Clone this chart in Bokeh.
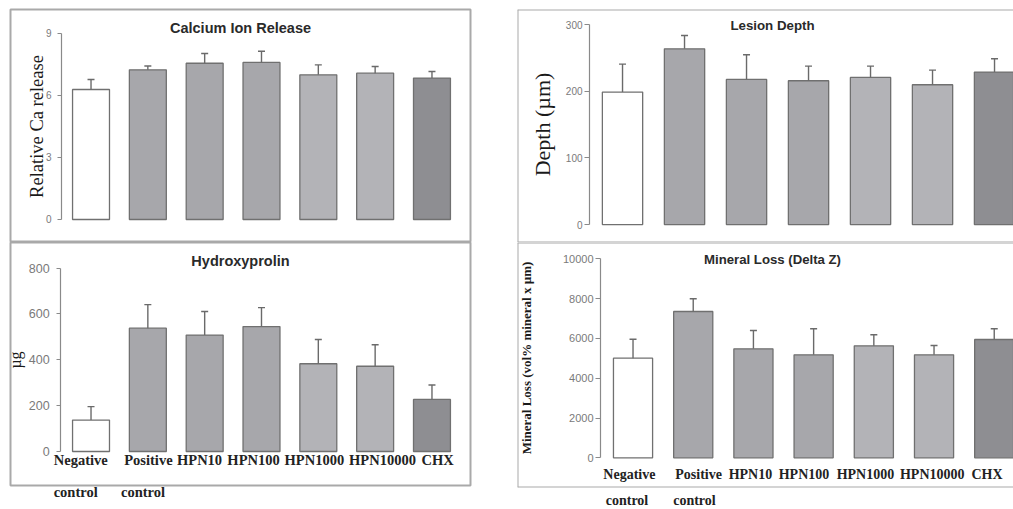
from bokeh.plotting import figure
from bokeh.models import LinearAxis, FixedTicker, Range1d, Label, ColumnDataSource, Span
from bokeh.layouts import row, column
from bokeh.embed import file_html
from bokeh.resources import INLINE

categories = ["Negative", "Positive", "HPN10", "HPN100", "HPN1000", "HPN10000", "CHX"]
second_line = ["control", "control"]

ca_mean = [6.29, 7.24, 7.56, 7.60, 7.00, 7.08, 6.84]
ca_sd = [0.48, 0.19, 0.47, 0.54, 0.48, 0.32, 0.32]
ca_ticks = [0, 3, 6, 9]

hyp_mean = [137, 538, 508, 545, 383, 372, 227]
hyp_sd = [59, 103, 103, 83, 106, 94, 63]
hyp_ticks = [0, 200, 400, 600, 800]

depth_mean = [199, 264, 218, 216, 221, 210, 229]
depth_sd = [42, 20, 37, 22, 17, 22, 20]
depth_ticks = [0, 100, 200, 300]

min_mean = [5005, 7352, 5477, 5176, 5628, 5176, 5945]
min_sd = [955, 638, 920, 1306, 553, 467, 537]
min_ticks = [0, 2000, 4000, 6000, 8000, 10000]

bar_colors = ["#ffffff", "#a7a7ab", "#a7a7ab", "#a7a7ab", "#b3b3b7", "#b3b3b7", "#8e8e92"]

SERIF = "Liberation Serif"
SANS = "Liberation Sans"
BOX = "#a9a9a9"


def panel(title, mean, sd, ticks, ylabel, cfg):
    n = len(categories)
    xs = list(range(n))
    p = figure(
        frame_width=cfg["fw"], frame_height=cfg["fh"],
        x_range=Range1d(cfg["x0"], cfg["x1"]), y_range=Range1d(cfg["y0"], cfg["y1"]),
        x_axis_location=None, y_axis_location=None,
        output_backend="svg", toolbar_location=None,
        min_border_left=cfg["bl"], min_border_right=cfg["br"],
        min_border_top=cfg["bt"], min_border_bottom=cfg["bb"],
        outline_line_color=BOX if cfg.get("outline", True) else None, outline_line_width=2,
        background_fill_color="white", border_fill_color="white",
    )
    p.grid.visible = False
    if not cfg.get("outline", True):
        p.add_layout(Span(location=cfg["x0"], dimension="height", line_color=BOX, line_width=2))
        p.add_layout(Span(location=cfg["y0"], dimension="width", line_color=BOX, line_width=2))
        p.add_layout(Span(location=cfg["y1"], dimension="width", line_color=BOX, line_width=2))

    src = ColumnDataSource(dict(
        x=xs, top=mean, err=[m + s for m, s in zip(mean, sd)], color=bar_colors,
    ))
    p.vbar(x="x", top="top", bottom=0, width=0.65, source=src,
           fill_color="color", line_color="#707070", line_width=1.3)
    p.segment(x0="x", y0="top", x1="x", y1="err", source=src,
              line_color="#6a6a6a", line_width=1.4)
    p.scatter(x="x", y="err", marker="dash", size=7, source=src,
              line_color="#6a6a6a", line_width=1.4)

    ya = LinearAxis(
        fixed_location=cfg["yax"], ticker=FixedTicker(ticks=ticks),
        bounds=(ticks[0], ticks[-1]),
        axis_label=ylabel, axis_label_text_font=SERIF,
        axis_label_text_font_style=cfg["lstyle"],
        axis_label_text_font_size=cfg["lsize"], axis_label_text_color="#1a1a1a",
        axis_label_standoff=cfg["lstand"],
        axis_line_color="#8a8a8a", axis_line_width=1.2,
        major_tick_line_color="#8a8a8a", major_tick_out=cfg["tout"], major_tick_in=0,
        minor_tick_line_color=None,
        major_label_text_font=SANS, major_label_text_font_size=cfg["tsize"],
        major_label_text_color="#7a7a7a", major_label_standoff=cfg["tstand"],
    )
    p.add_layout(ya, "left")

    if cfg.get("xlabels"):
        pos1 = [i + d for i, d in zip(xs, cfg["shift1"])]
        xa = LinearAxis(
            fixed_location=0, ticker=FixedTicker(ticks=pos1),
            major_label_overrides={t: c for t, c in zip(pos1, categories)},
            axis_line_color=None, major_tick_line_color=None, minor_tick_line_color=None,
            major_tick_in=0, major_tick_out=0,
            major_label_standoff=cfg["xs1"], major_label_text_font=SERIF,
            major_label_text_font_style="bold", major_label_text_font_size=cfg["xsize"],
            major_label_text_color="#222222",
        )
        p.add_layout(xa, "below")
        pos2 = [i + d for i, d in zip(xs[:len(second_line)], cfg["shift2"])]
        xa2 = LinearAxis(
            ticker=FixedTicker(ticks=pos2),
            major_label_overrides={t: c for t, c in zip(pos2, second_line)},
            axis_line_color=None, major_tick_line_color=None, minor_tick_line_color=None,
            major_tick_in=0, major_tick_out=0,
            major_label_standoff=cfg["xs2"], major_label_text_font=SERIF,
            major_label_text_font_style="bold", major_label_text_font_size=cfg["xsize"],
            major_label_text_color="#222222",
        )
        p.add_layout(xa2, "below")

    p.add_layout(Label(
        x=cfg["x0"], y=cfg["y1"], x_offset=cfg["tx"], y_offset=-cfg["ty"],
        text=title, text_font=SANS, text_font_style="bold",
        text_font_size=cfg["titsize"], text_color="#2a2a2a",
        text_align="center", text_baseline="middle",
    ))
    return p


tl = panel("Calcium Ion Release", ca_mean, ca_sd, ca_ticks, "Relative Ca release", dict(
    fw=460, fh=233, x0=-1.417, x1=6.678, y0=-1.113, y1=10.16,
    bl=10, br=40, bt=9, bb=0, yax=-0.519,
    lstyle="normal", lsize="18.5px", lstand=-4, tout=4, tsize="10px", tstand=6,
    tx=230, ty=18, titsize="14.5px"))

bl = panel("Hydroxyprolin", hyp_mean, hyp_sd, hyp_ticks, "µg", dict(
    fw=460, fh=243, x0=-1.417, x1=6.678, y0=-148.4, y1=912,
    bl=10, br=40, bt=0, bb=24, yax=-0.535,
    lstyle="normal", lsize="16px", lstand=2, tout=4, tsize="12.5px", tstand=7,
    xlabels=True, xs1=1, xs2=-2, xsize="14.5px",
    shift1=[-0.18, 0.01, -0.09, -0.14, -0.07, 0.13, 0.10], shift2=[-0.27, -0.085],
    tx=230, ty=18.7, titsize="14.5px"))

tr = panel("Lesion Depth", depth_mean, depth_sd, depth_ticks, "Depth (µm)", dict(
    fw=496, fh=233, x0=-1.694, x1=6.306, y0=-27, y1=323,
    bl=7, br=0, bt=9, bb=0, yax=-0.532, outline=False,
    lstyle="normal", lsize="22px", lstand=8, tout=5, tsize="10px", tstand=2,
    tx=255, ty=16, titsize="13.3px"))

br = panel("Mineral Loss (Delta Z)", min_mean, min_sd, min_ticks,
           "Mineral Loss (vol% mineral x µm)", dict(
    fw=496, fh=245, x0=-1.919, x1=6.32, y0=-1492, y1=10819,
    bl=7, br=0, bt=0, bb=22, yax=-0.54, outline=False,
    lstyle="bold", lsize="13px", lstand=26, tout=5, tsize="11px", tstand=2,
    xlabels=True, xs1=9, xs2=5, xsize="14px",
    shift1=[-0.06, 0.09, -0.05, -0.16, -0.14, -0.03, -0.12], shift2=[-0.10, 0.02],
    tx=255, ty=17, titsize="13.2px"))

layout = row(column(tl, bl), column(tr, br))
open("out.html", "w").write(file_html(layout, INLINE))
